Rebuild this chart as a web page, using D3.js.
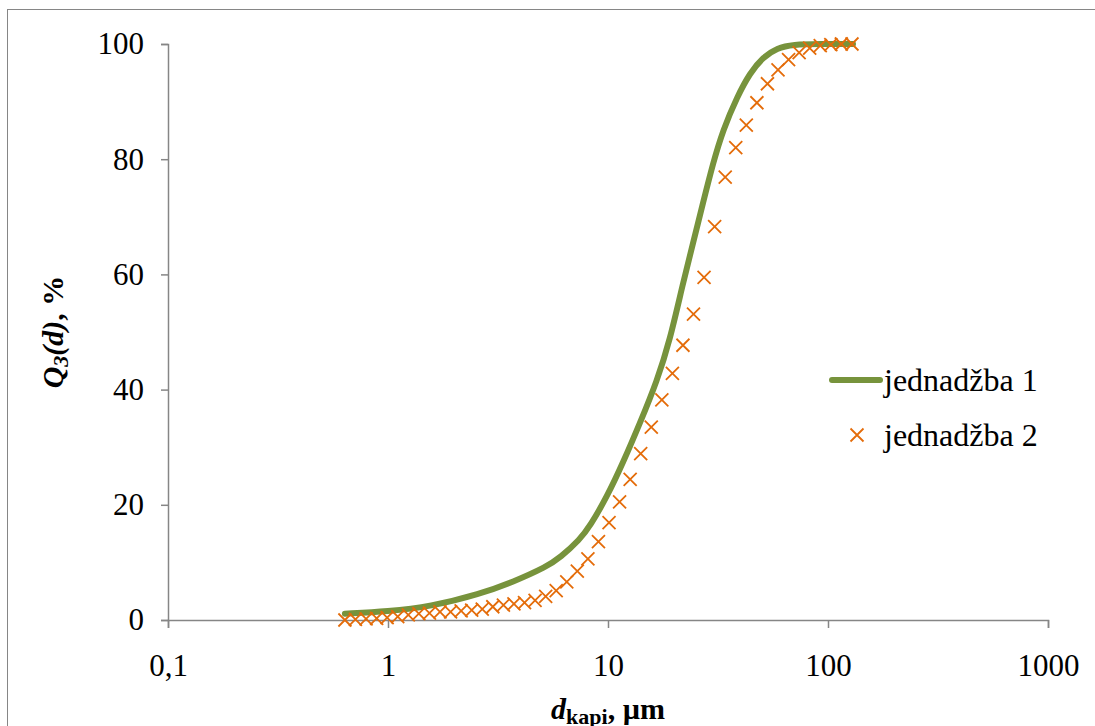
<!DOCTYPE html>
<html lang="hr">
<head>
<meta charset="utf-8">
<script src="https://d3js.org/d3.v7.min.js"></script>
<style>
  body { margin: 0; background: #fff; }
</style>
</head>
<body>
<script>
// jednadžba 1 - line
const lineD = [0.637, 1, 1.552, 2.619, 3.70, 5.28, 6.05, 7.46, 8.284, 9.896, 11.70, 13.98,
  16.70, 19.13, 21.92, 24.34, 27.03, 30.01, 33.33, 38.59, 44.22, 50.66, 58.65, 69.3, 91.9, 129.9];
const lineQ = [1.1, 1.5, 2.3, 4.5, 6.6, 9.3, 10.8, 14.0, 16.3, 21.4, 27.3, 34.2,
  41.5, 48.6, 58.5, 65.4, 72.4, 79.3, 85.1, 90.8, 95.0, 97.7, 99.3, 99.9, 100, 100];

// jednadžba 2 - markers
const markD = [0.637, 0.711, 0.795, 0.888, 0.991, 1.107, 1.237, 1.381, 1.543, 1.723,
  1.925, 2.150, 2.401, 2.682, 2.995, 3.346, 3.737, 4.174, 4.662, 5.207,
  5.815, 6.495, 7.254, 8.102, 9.049, 10.11, 11.29, 12.61, 14.08, 15.73,
  17.57, 19.62, 21.91, 24.47, 27.33, 30.53, 34.10, 38.08, 42.53, 47.51,
  53.06, 59.26, 66.19, 73.93, 82.57, 92.22, 103.0, 115.0, 128.5];
const markQ = [0.0, 0.1, 0.2, 0.3, 0.4, 0.6, 0.9, 1.1, 1.2, 1.4,
  1.4, 1.6, 1.7, 1.9, 2.3, 2.6, 2.8, 3.0, 3.4, 4.1,
  5.1, 6.6, 8.5, 10.6, 13.6, 16.9, 20.5, 24.4, 28.9, 33.5,
  38.2, 42.8, 47.7, 53.1, 59.5, 68.3, 76.9, 82.0, 85.9, 89.8,
  93.1, 95.5, 97.3, 98.5, 99.3, 99.7, 99.9, 100, 100];

const xTicks = [0.1, 1, 10, 100, 1000];
const xTickLabels = ["0,1", "1", "10", "100", "1000"];
const yTicks = [0, 20, 40, 60, 80, 100];
const seriesNames = ["jednadžba 1", "jednadžba 2"];

const W = 1095, H = 726;
const green = "#77933c", orange = "#e46c0a", axisGray = "#868686";
const serif = "Liberation Serif, Times New Roman, Times, serif";
const fs = 31;

var svg = d3.select("body").append("svg")
  .attr("width", W).attr("height", H)
  .attr("font-family", serif);

// outer chart border (cut off at right and bottom)
svg.append("rect")
  .attr("x", 7.5).attr("y", 9.5)
  .attr("width", 1100).attr("height", 730)
  .attr("fill", "none").attr("stroke", axisGray).attr("stroke-width", 1);

var x = d3.scaleLog().domain([0.1, 1000]).range([168, 1048]);
var y = d3.scaleLinear().domain([0, 100]).range([620, 44]);

// x axis
var xAxis = svg.append("g")
  .attr("transform", "translate(0,620)")
  .call(d3.axisBottom(x).tickValues(xTicks)
    .tickFormat((d, i) => xTickLabels[i]).tickSize(8).tickPadding(26));
// y axis
var yAxis = svg.append("g")
  .attr("transform", "translate(168,0)")
  .call(d3.axisLeft(y).tickValues(yTicks).tickSize(7).tickPadding(17));

[xAxis, yAxis].forEach(g => {
  g.attr("font-family", serif).attr("font-size", fs);
  g.select(".domain").attr("stroke", axisGray).attr("stroke-width", 1.5);
  g.selectAll(".tick line").attr("stroke", axisGray).attr("stroke-width", 1.5);
  g.selectAll(".tick text").attr("fill", "#000");
});

// line series
var line = d3.line()
  .x((d, i) => x(lineD[i]))
  .y(d => y(d))
  .curve(d3.curveBasis);
svg.append("path")
  .datum(lineQ)
  .attr("d", line)
  .attr("fill", "none")
  .attr("stroke", green)
  .attr("stroke-width", 6)
  .attr("stroke-linecap", "round");

// markers
var s = 6.5;
function cross(g, cx, cy) {
  g.append("path")
    .attr("d", `M${cx - s},${cy - s}L${cx + s},${cy + s}M${cx - s},${cy + s}L${cx + s},${cy - s}`)
    .attr("stroke", orange).attr("stroke-width", 1.8).attr("fill", "none");
}
var mk = svg.append("g");
markQ.forEach((q, i) => cross(mk, x(markD[i]), y(q)));

// legend
var leg = svg.append("g").attr("font-size", 32);
leg.append("line")
  .attr("x1", 832).attr("x2", 880).attr("y1", 380).attr("y2", 380)
  .attr("stroke", green).attr("stroke-width", 6).attr("stroke-linecap", "round");
leg.append("text").attr("x", 884).attr("y", 391).text(seriesNames[0]);
cross(leg, 857, 435);
leg.append("text").attr("x", 884).attr("y", 446).text(seriesNames[1]);

// x axis title
var xt = svg.append("text")
  .attr("x", 608).attr("y", 719)
  .attr("text-anchor", "middle")
  .attr("font-size", 30).attr("font-weight", "bold");
xt.append("tspan").attr("font-style", "italic").text("d");
xt.append("tspan").attr("dy", 5).attr("font-size", 22).text("kapi");
xt.append("tspan").attr("dy", -5).text(", µm");

// y axis title
var yt = svg.append("text")
  .attr("transform", "translate(63,332) rotate(-90)")
  .attr("text-anchor", "middle")
  .attr("font-size", 30).attr("font-weight", "bold");
yt.append("tspan").attr("font-style", "italic").text("Q");
yt.append("tspan").attr("dy", 5).attr("font-size", 22).attr("font-style", "italic").text("3");
yt.append("tspan").attr("dy", -5).attr("font-style", "italic").text("(d)");
yt.append("tspan").text(", %");
</script>
</body>
</html>
